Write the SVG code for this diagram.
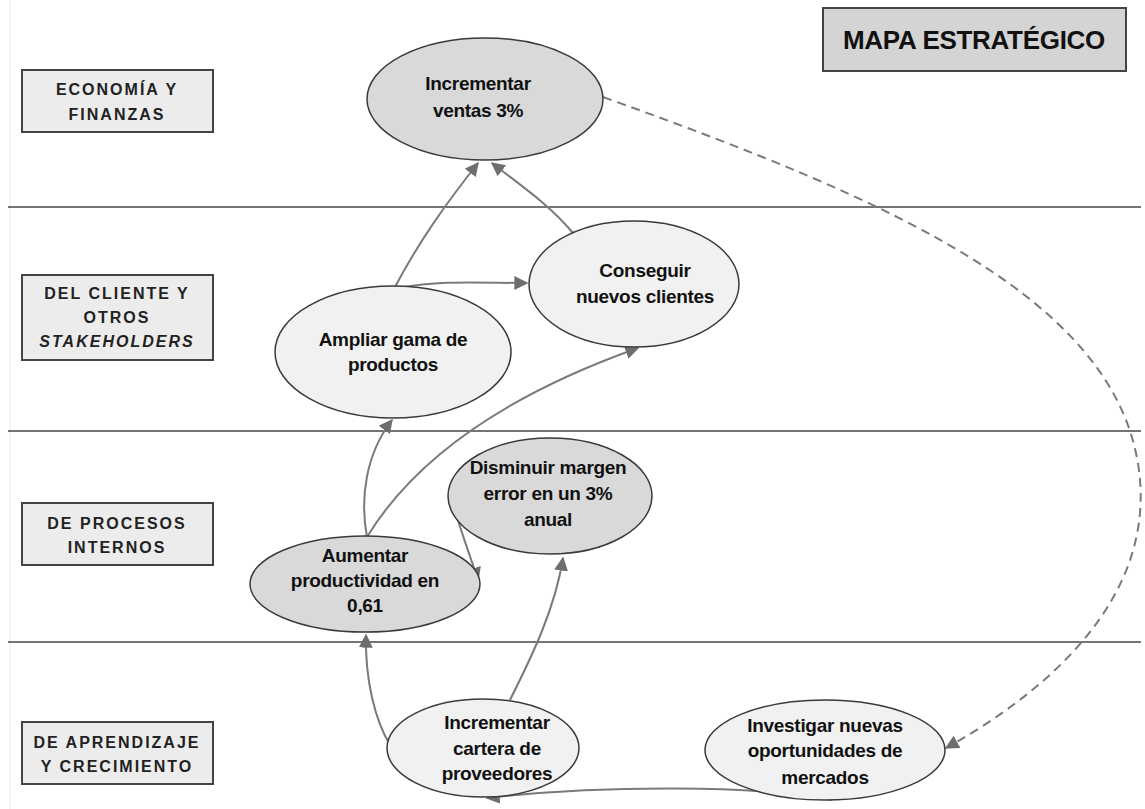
<svg xmlns="http://www.w3.org/2000/svg" width="1145" height="809" viewBox="0 0 1145 809">
  <style>
    .lane { stroke: #747474; stroke-width: 2; fill: none; }
    .lbl { fill: #ececec; stroke: #444; stroke-width: 2; }
    .lbltxt { font-family: "Liberation Sans", Arial, sans-serif; font-size: 16px; font-weight: bold; fill: #222; text-anchor: middle; letter-spacing: 2px; }
    .dark { fill: #d9d9d9; stroke: #3a3a3a; stroke-width: 1.5; }
    .light { fill: #f1f1f1; stroke: #3a3a3a; stroke-width: 1.5; }
    .ntxt { font-family: "Liberation Sans", Arial, sans-serif; font-size: 19px; font-weight: bold; fill: #111; text-anchor: middle; letter-spacing: -0.3px; }
    .edge { stroke: #7a7a7a; stroke-width: 2; fill: none; marker-end: url(#arr); }
    .dash { stroke: #7a7a7a; stroke-width: 2; fill: none; stroke-dasharray: 9 6; marker-end: url(#arr); }
  </style>
  <defs>
    <marker id="arr" viewBox="0 0 10 10" refX="9" refY="5" markerWidth="7" markerHeight="7" orient="auto" markerUnits="strokeWidth">
      <path d="M0,0 L10,5 L0,10 z" fill="#6e6e6e"/>
    </marker>
  </defs>
  <rect width="1145" height="809" fill="#ffffff"/>
  <line x1="10" y1="0" x2="10" y2="809" stroke="#ececec" stroke-width="1"/>

  <!-- swimlane dividers -->
  <g id="lanes">
    <line class="lane" x1="8" y1="207" x2="1141" y2="207"/>
    <line class="lane" x1="8" y1="431" x2="1141" y2="431"/>
    <line class="lane" x1="8" y1="642" x2="1141" y2="642"/>
  </g>

  <!-- title -->
  <g id="title">
    <rect x="823" y="8" width="303" height="63" fill="#d4d4d4" stroke="#444" stroke-width="2"/>
    <text x="974" y="49" font-family="Liberation Sans, Arial, sans-serif" font-size="26" font-weight="bold" fill="#111" text-anchor="middle" letter-spacing="-0.3">MAPA ESTRATÉGICO</text>
  </g>

  <!-- perspective labels -->
  <g id="lbl-economia">
    <rect class="lbl" x="22" y="70" width="191" height="62"/>
    <text class="lbltxt" x="117" y="95">ECONOMÍA Y</text>
    <text class="lbltxt" x="117" y="120">FINANZAS</text>
  </g>
  <g id="lbl-cliente">
    <rect class="lbl" x="22" y="275" width="191" height="85"/>
    <text class="lbltxt" x="117" y="299">DEL CLIENTE Y</text>
    <text class="lbltxt" x="117" y="323">OTROS</text>
    <text class="lbltxt" x="117" y="347" font-style="italic">STAKEHOLDERS</text>
  </g>
  <g id="lbl-procesos">
    <rect class="lbl" x="22" y="503" width="191" height="62"/>
    <text class="lbltxt" x="117" y="529">DE PROCESOS</text>
    <text class="lbltxt" x="117" y="553">INTERNOS</text>
  </g>
  <g id="lbl-aprendizaje">
    <rect class="lbl" x="22" y="722" width="191" height="62"/>
    <text class="lbltxt" x="117" y="748">DE APRENDIZAJE</text>
    <text class="lbltxt" x="117" y="772">Y CRECIMIENTO</text>
  </g>

  <!-- connectors -->
  <g id="connectors">
    <path class="edge" d="M395,287 C420,240 445,205 478,163"/>
    <path class="edge" d="M573,233 C550,205 520,185 492,163"/>
    <path class="edge" d="M400,288 C440,280 480,283 527,283"/>
    <path class="edge" d="M367,537 C360,500 365,455 392,420"/>
    <path class="edge" d="M367,537 C420,450 520,390 638,348"/>
    <path class="edge" d="M453,503 C460,530 470,555 478,580"/>
    <path class="edge" d="M510,700 C530,660 555,610 563,558"/>
    <path class="edge" d="M390,745 C375,720 365,680 366,635"/>
    <path class="edge" d="M832,800 C760,785 600,785 487,798"/>
    <path class="dash" d="M603,97 C890,200 1125,300 1140,480 C1150,600 1050,690 946,748"/>
  </g>

  <!-- objectives -->
  <g id="n-ventas">
    <ellipse class="dark" cx="485" cy="99" rx="118" ry="61"/>
    <text class="ntxt" x="478" y="90">Incrementar</text>
    <text class="ntxt" x="478" y="117">ventas 3%</text>
  </g>
  <g id="n-clientes">
    <ellipse class="light" cx="634" cy="284" rx="105" ry="63"/>
    <text class="ntxt" x="645" y="277">Conseguir</text>
    <text class="ntxt" x="645" y="303">nuevos clientes</text>
  </g>
  <g id="n-gama">
    <ellipse class="light" cx="393" cy="352" rx="118" ry="66"/>
    <text class="ntxt" x="393" y="346">Ampliar gama de</text>
    <text class="ntxt" x="393" y="371">productos</text>
  </g>
  <g id="n-margen">
    <ellipse class="dark" cx="550" cy="496" rx="102" ry="58"/>
    <text class="ntxt" x="548" y="474">Disminuir margen</text>
    <text class="ntxt" x="548" y="500">error en un 3%</text>
    <text class="ntxt" x="548" y="526">anual</text>
  </g>
  <g id="n-productividad">
    <ellipse class="dark" cx="365" cy="584" rx="115" ry="48"/>
    <text class="ntxt" x="365" y="562">Aumentar</text>
    <text class="ntxt" x="365" y="587">productividad en</text>
    <text class="ntxt" x="365" y="612">0,61</text>
  </g>
  <g id="n-proveedores">
    <ellipse class="light" cx="483" cy="748" rx="96" ry="49"/>
    <text class="ntxt" x="497" y="729">Incrementar</text>
    <text class="ntxt" x="497" y="755">cartera de</text>
    <text class="ntxt" x="497" y="780">proveedores</text>
  </g>
  <g id="n-mercados">
    <ellipse class="light" cx="825" cy="750" rx="120" ry="50"/>
    <text class="ntxt" x="825" y="732">Investigar nuevas</text>
    <text class="ntxt" x="825" y="757">oportunidades de</text>
    <text class="ntxt" x="825" y="784">mercados</text>
  </g>
</svg>
